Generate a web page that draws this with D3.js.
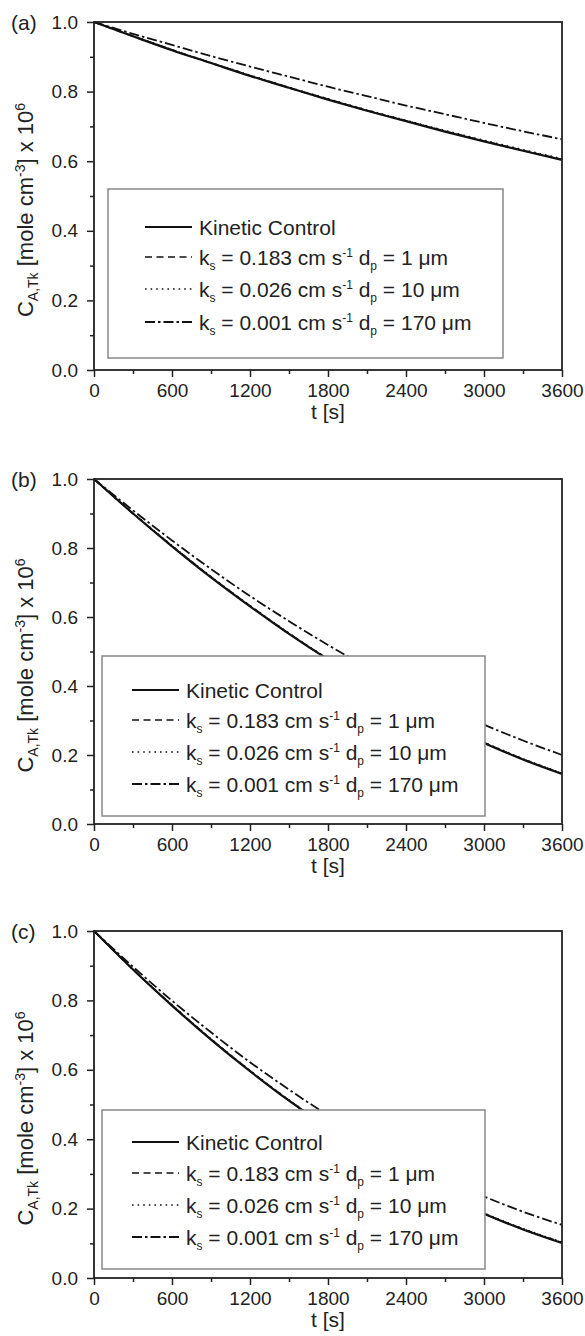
<!DOCTYPE html>
<html>
<head>
<meta charset="utf-8">
<script src="https://cdn.jsdelivr.net/npm/d3@7"></script>
<style>
body { margin: 0; background: #fff; }
svg text { font-family: "Liberation Sans", Arial, sans-serif; fill: #222; }
</style>
</head>
<body>
<svg id="chart"></svg>
<script>
var width = 585;
var height = 1336;

// time points (s)
var tValues = [0, 300, 600, 900, 1200, 1500, 1800, 2100, 2400, 2700, 3000, 3300, 3600];

// panel (a)
var kineticA = [1.000, 0.959, 0.919, 0.882, 0.845, 0.811, 0.777, 0.745, 0.715, 0.685, 0.657, 0.630, 0.604];
var ks183A   = [1.000, 0.959, 0.920, 0.882, 0.846, 0.811, 0.778, 0.746, 0.716, 0.686, 0.658, 0.631, 0.605];
var ks026A   = [1.000, 0.960, 0.920, 0.883, 0.847, 0.812, 0.779, 0.747, 0.717, 0.688, 0.660, 0.633, 0.607];
var ks001A   = [1.000, 0.966, 0.934, 0.902, 0.872, 0.843, 0.814, 0.787, 0.760, 0.735, 0.710, 0.686, 0.663];

// panel (b)
var kineticB = [1.000, 0.900, 0.805, 0.715, 0.631, 0.551, 0.477, 0.409, 0.346, 0.287, 0.235, 0.187, 0.145];
var ks183B   = [1.000, 0.900, 0.806, 0.716, 0.632, 0.552, 0.478, 0.410, 0.347, 0.288, 0.236, 0.188, 0.146];
var ks026B   = [1.000, 0.901, 0.807, 0.717, 0.633, 0.553, 0.479, 0.411, 0.348, 0.289, 0.237, 0.189, 0.147];
var ks001B   = [1.000, 0.909, 0.822, 0.739, 0.661, 0.588, 0.519, 0.455, 0.395, 0.339, 0.288, 0.242, 0.200];

// panel (c)
var kineticC = [1.000, 0.889, 0.785, 0.687, 0.596, 0.511, 0.433, 0.361, 0.296, 0.237, 0.185, 0.140, 0.101];
var ks183C   = [1.000, 0.889, 0.786, 0.688, 0.597, 0.512, 0.434, 0.362, 0.297, 0.238, 0.186, 0.141, 0.102];
var ks026C   = [1.000, 0.890, 0.787, 0.689, 0.598, 0.513, 0.435, 0.363, 0.298, 0.239, 0.187, 0.142, 0.103];
var ks001C   = [1.000, 0.897, 0.799, 0.708, 0.622, 0.543, 0.469, 0.402, 0.340, 0.284, 0.235, 0.191, 0.153];

var xTicks = [0, 600, 1200, 1800, 2400, 3000, 3600];
var xMinor = [300, 900, 1500, 2100, 2700, 3300];
var yTicks = [0, 0.2, 0.4, 0.6, 0.8, 1.0];
var yMinor = [0.1, 0.3, 0.5, 0.7, 0.9];

var panelLetters = ["(a)", "(b)", "(c)"];
var ksLabels = ["0.183", "0.026", "0.001"];
var dpLabels = ["1", "10", "170"];

var panelData = [
    [kineticA, ks183A, ks026A, ks001A],
    [kineticB, ks183B, ks026B, ks001B],
    [kineticC, ks183C, ks026C, ks001C]
];

// layout of each panel
var panels = [
    {top: 22,  bottom: 370,  legend: [108, 189, 503, 358],  rows: [227, 257, 289, 322],     sample: [145, 192]},
    {top: 479, bottom: 824,  legend: [102, 656, 485, 816],  rows: [690, 720, 752, 784],     sample: [132, 179]},
    {top: 931, bottom: 1278, legend: [102, 1110, 485, 1269], rows: [1142, 1173, 1205, 1237], sample: [132, 179]}
];

var plotLeft = 94;
var plotRight = 562;

var dashes = ["none", "7,4.5", "1.6,4", "10,3,2.5,3"];
var widths = [2.2, 1.7, 1.7, 1.8];

var svg = d3.select("#chart")
    .attr("width", width)
    .attr("height", height);

var xScale = d3.scaleLinear()
    .domain([0, 3600])
    .range([plotLeft, plotRight]);

panels.forEach(function(p, pi) {

    var yScale = d3.scaleLinear()
        .domain([0, 1])
        .range([p.bottom, p.top]);

    var g = svg.append("g");

    // series lines, solid drawn last
    var line = d3.line()
        .x(function(d, i) { return xScale(tValues[i]); })
        .y(function(d) { return yScale(d); })
        .curve(d3.curveMonotoneX);

    [3, 2, 1, 0].forEach(function(si) {
        g.append("path")
            .datum(panelData[pi][si])
            .attr("d", line)
            .attr("fill", "none")
            .attr("stroke", "#111")
            .attr("stroke-width", widths[si])
            .attr("stroke-dasharray", dashes[si]);
    });

    // x axis
    var xAxis = g.append("g")
        .attr("transform", "translate(0," + p.bottom + ")")
        .call(d3.axisBottom(xScale).tickValues(xTicks).tickSize(7).tickPadding(7).tickFormat(d3.format("d")));
    xAxis.select(".domain").remove();
    xAxis.selectAll("text").style("font-size", "19px").attr("fill", "#222");

    var xAxisMinor = g.append("g")
        .attr("transform", "translate(0," + p.bottom + ")")
        .call(d3.axisBottom(xScale).tickValues(xMinor).tickSize(4).tickFormat(""));
    xAxisMinor.select(".domain").remove();

    // y axis
    var yAxis = g.append("g")
        .attr("transform", "translate(" + plotLeft + ",0)")
        .call(d3.axisLeft(yScale).tickValues(yTicks).tickSize(7).tickPadding(9).tickFormat(d3.format(".1f")));
    yAxis.select(".domain").remove();
    yAxis.selectAll("text").style("font-size", "19px").attr("fill", "#222");

    var yAxisMinor = g.append("g")
        .attr("transform", "translate(" + plotLeft + ",0)")
        .call(d3.axisLeft(yScale).tickValues(yMinor).tickSize(4).tickFormat(""));
    yAxisMinor.select(".domain").remove();

    g.selectAll(".tick line")
        .attr("stroke", "#222")
        .attr("stroke-width", 1.5);

    // frame
    g.append("rect")
        .attr("x", plotLeft)
        .attr("y", p.top)
        .attr("width", plotRight - plotLeft)
        .attr("height", p.bottom - p.top)
        .attr("fill", "none")
        .attr("stroke", "#222")
        .attr("stroke-width", 1.8);

    // panel letter
    g.append("text")
        .attr("x", 11)
        .attr("y", p.top + 8)
        .style("font-size", "21px")
        .text(panelLetters[pi]);

    // x label
    g.append("text")
        .attr("x", (plotLeft + plotRight) / 2)
        .attr("y", p.bottom + 49)
        .attr("text-anchor", "middle")
        .style("font-size", "21px")
        .text("t [s]");

    // y label
    var yl = g.append("text")
        .attr("transform", "translate(33," + ((p.top + p.bottom) / 2 + 14) + ") rotate(-90)")
        .attr("text-anchor", "middle")
        .style("font-size", "22px");
    yl.append("tspan").text("C");
    yl.append("tspan").attr("dy", 5).style("font-size", "14px").text("A,Tk");
    yl.append("tspan").attr("dy", -5).text(" [mole cm");
    yl.append("tspan").attr("dy", -8).style("font-size", "14px").text("-3");
    yl.append("tspan").attr("dy", 8).text("] x 10");
    yl.append("tspan").attr("dy", -8).style("font-size", "14px").text("6");

    // legend
    var L = p.legend;
    g.append("rect")
        .attr("x", L[0])
        .attr("y", L[1])
        .attr("width", L[2] - L[0])
        .attr("height", L[3] - L[1])
        .attr("fill", "#fff")
        .attr("stroke", "#888")
        .attr("stroke-width", 1.5);

    p.rows.forEach(function(ry, si) {
        g.append("line")
            .attr("x1", p.sample[0])
            .attr("x2", p.sample[1])
            .attr("y1", ry)
            .attr("y2", ry)
            .attr("stroke", "#111")
            .attr("stroke-width", widths[si])
            .attr("stroke-dasharray", dashes[si]);

        var t = g.append("text")
            .attr("x", p.sample[1] + 7)
            .attr("y", ry + 7.5)
            .style("font-size", "21px");

        if (si === 0) {
            t.text("Kinetic Control");
        } else {
            t.append("tspan").text("k");
            t.append("tspan").attr("dy", 5).style("font-size", "12px").text("s");
            t.append("tspan").attr("dy", -5).text(" = " + ksLabels[si - 1] + " cm s");
            t.append("tspan").attr("dy", -8).style("font-size", "12px").text("-1");
            t.append("tspan").attr("dy", 8).text(" d");
            t.append("tspan").attr("dy", 5).style("font-size", "12px").text("p");
            t.append("tspan").attr("dy", -5).text(" = " + dpLabels[si - 1] + " \u03bcm");
        }
    });
});
</script>
</body>
</html>
